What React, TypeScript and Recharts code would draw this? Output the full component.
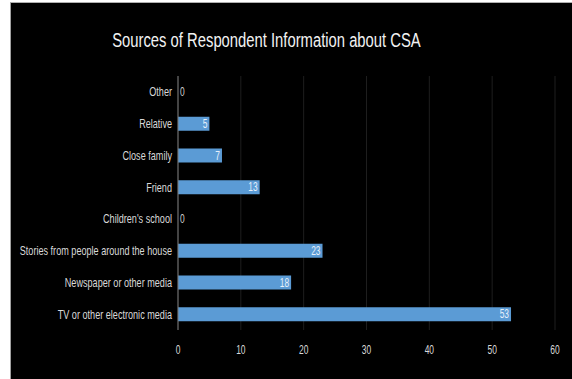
import React from "react";
import { BarChart, Bar, XAxis, YAxis, CartesianGrid, LabelList } from "recharts";

const categories = [
  "Other",
  "Relative",
  "Close family",
  "Friend",
  "Children's school",
  "Stories from people around the house",
  "Newspaper or other media",
  "TV or other electronic media",
];
const counts = [0, 5, 7, 13, 0, 23, 18, 53];
const xTicks = [0, 10, 20, 30, 40, 50, 60];
const title = "Sources of Respondent Information about CSA";

const data = categories.map((c, i) => ({ name: c, value: counts[i] }));

const FONT = "'Liberation Sans', Arial, sans-serif";

const YTick = (props: any) => {
  const { x, y, payload } = props;
  const idx = categories.indexOf(payload.value);
  const v = counts[idx];
  return (
    <g>
      <g transform={`translate(${x},${y})`}>
        <text transform="scale(0.7,1)" textAnchor="end" dy={4.5} fill="#d9d9d9" fontSize={13} fontFamily={FONT}>
          {payload.value}
        </text>
      </g>
      {v === 0 ? (
        <g transform={`translate(${x + 8},${y})`}>
          <text transform="scale(0.7,1)" textAnchor="start" dy={4.2} fill="#cfcfcf" fontSize={12} fontFamily={FONT}>
            {v}
          </text>
        </g>
      ) : null}
    </g>
  );
};

const XTick = (props: any) => {
  const { x, y, payload } = props;
  return (
    <g transform={`translate(${x},${y})`}>
      <text transform="scale(0.65,1)" textAnchor="middle" dy={24} fill="#d9d9d9" fontSize={13} fontFamily={FONT}>
        {payload.value}
      </text>
    </g>
  );
};

const BarLabel = (props: any) => {
  const { x, y, width, height, value } = props;
  if (!value) return null;
  const tx = x + width - 2;
  return (
    <g transform={`translate(${tx},${y + height / 2})`}>
      <text transform="scale(0.7,1)" textAnchor="end" dy={4.2} fill="#e6f0fa" fontSize={12} fontFamily={FONT}>
        {value}
      </text>
    </g>
  );
};

export default function App() {
  return (
    <div style={{ position: "fixed", left: 0, top: 0, width: 572, height: 379, background: "#ffffff", overflow: "hidden" }}>
      <div
        style={{
          position: "absolute",
          left: 10,
          top: 2,
          width: 562,
          height: 377,
          background: "#000",
          borderLeft: "1px solid #a0a0a0",
          borderTop: "1px solid #b0b0b0",
          boxSizing: "border-box",
        }}
      />
      <div style={{ position: "absolute", left: 11, top: 3 }}>
        <BarChart
          width={561}
          height={376}
          data={data}
          layout="vertical"
          margin={{ top: 73, right: 17, bottom: 19, left: 0 }}
          barSize={14}
        >
          <CartesianGrid horizontal={false} vertical={true} stroke="#1e1e1e" />
          <XAxis
            type="number"
            domain={[0, 60]}
            ticks={xTicks}
            axisLine={false}
            tickLine={false}
            tickSize={0}
            tickMargin={0}
            height={30}
            tick={<XTick />}
          />
          <YAxis
            type="category"
            dataKey="name"
            width={167}
            axisLine={{ stroke: "#7a7a7a" }}
            tickLine={false}
            tickSize={0}
            tickMargin={6}
            interval={0}
            tick={<YTick />}
          />
          <Bar dataKey="value" fill="#5b9bd5" isAnimationActive={false}>
            <LabelList dataKey="value" content={<BarLabel />} />
          </Bar>
        </BarChart>
      </div>
      <div
        style={{
          position: "absolute",
          left: 0,
          top: 27,
          width: 532,
          textAlign: "center",
          fontFamily: FONT,
          fontSize: 20,
          lineHeight: "26px",
          color: "#f2f2f2",
        }}
      >
        <span style={{ display: "inline-block", transform: "scaleX(0.74)", transformOrigin: "center" }}>{title}</span>
      </div>
    </div>
  );
}
